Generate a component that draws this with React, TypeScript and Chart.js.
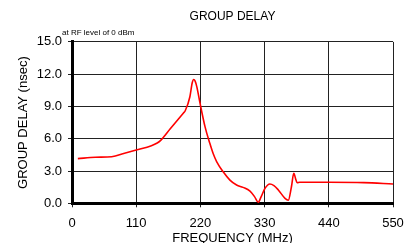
import React, { useEffect, useRef } from "react";
import { Chart, registerables } from "chart.js";

Chart.register(...registerables);

const freqMHz = [10, 40, 68, 90, 110, 136, 146, 152, 168, 191, 194, 202, 206, 208.5, 211, 214, 219, 228, 236, 242, 248, 259, 270.6, 282, 293, 305, 313, 319, 324, 330.7, 339, 346, 353.5, 365, 370.6, 376, 380, 383.8, 386, 390, 440, 500, 550];
const delayNs = [4.15, 4.28, 4.33, 4.65, 4.95, 5.35, 5.6, 5.85, 6.9, 8.4, 8.6, 9.9, 11.2, 11.5, 11.35, 10.8, 9.4, 7.1, 5.6, 4.6, 3.86, 2.93, 2.16, 1.7, 1.48, 1.14, 0.6, 0.1, 0.6, 1.4, 1.8, 1.65, 1.24, 0.46, 0.28, 1.54, 2.78, 2.16, 1.91, 1.95, 1.95, 1.92, 1.8];

const xTicks = [0, 110, 220, 330, 440, 550];
const yTicks = [0, 3, 6, 9, 12, 15];

const chartTitle = "GROUP DELAY";
const noteText = "at RF level of 0 dBm";
const xTitle = "FREQUENCY (MHz)";
const yTitle = "GROUP DELAY (nsec)";

const FONT = "'Liberation Sans', Arial, sans-serif";

export default function App() {
  const ref = useRef<HTMLCanvasElement | null>(null);

  useEffect(() => {
    document.body.style.margin = "0";
    document.body.style.overflow = "hidden";
    document.documentElement.style.overflow = "hidden";
    const canvas = ref.current;
    if (!canvas) return;

    const notePlugin = {
      id: "notePlugin",
      afterDraw(chart: any) {
        const { ctx, chartArea } = chart;
        ctx.save();
        ctx.font = `8px ${FONT}`;
        ctx.fillStyle = "#000";
        ctx.textAlign = "left";
        ctx.textBaseline = "middle";
        ctx.fillText(noteText, chartArea.left - 10, chartArea.top - 9);
        ctx.restore();
      },
    };

    const chart = new Chart(canvas, {
      type: "line",
      data: {
        datasets: [
          {
            data: freqMHz.map((f, i) => ({ x: f, y: delayNs[i] })),
            borderColor: "#ff0000",
            borderWidth: 1.6,
            pointRadius: 0,
            cubicInterpolationMode: "monotone",
            fill: false,
          },
        ],
      },
      options: {
        responsive: false,
        animation: false,
        devicePixelRatio: 1,
        layout: { padding: { left: 0, right: 24, top: 0, bottom: 0 } },
        plugins: {
          legend: { display: false },
          tooltip: { enabled: false },
          title: {
            display: true,
            fullSize: false,
            text: chartTitle,
            color: "#000",
            font: { family: FONT, size: 12, weight: "normal" },
            padding: { top: 9.5, bottom: 18 },
          },
        },
        scales: {
          x: {
            type: "linear",
            min: 0,
            max: 550,
            afterBuildTicks: (scale: any) => {
              scale.ticks = xTicks.map((v) => ({ value: v }));
            },
            afterFit: (scale: any) => {
              scale.height = 46.7;
            },
            ticks: {
              color: "#000",
              font: { family: FONT, size: 13 },
              padding: 8,
              maxRotation: 0,
              callback: (v: any) => String(v),
            },
            grid: { color: "#222", lineWidth: 1, tickLength: 4, drawTicks: true },
            border: { color: "#000", width: 3 },
            title: {
              display: true,
              text: xTitle,
              color: "#000",
              font: { family: FONT, size: 13 },
              padding: { top: 0, bottom: 4 },
            },
          },
          y: {
            type: "linear",
            min: 0,
            max: 15,
            afterBuildTicks: (scale: any) => {
              scale.ticks = yTicks.map((v) => ({ value: v }));
            },
            afterFit: (scale: any) => {
              scale.width = 72;
            },
            ticks: {
              color: "#000",
              font: { family: FONT, size: 13 },
              padding: 6,
              callback: (v: any) => Number(v).toFixed(1),
            },
            grid: { color: "#222", lineWidth: 1, tickLength: 4, drawTicks: true },
            border: { color: "#000", width: 3 },
            title: {
              display: true,
              text: yTitle,
              color: "#000",
              font: { family: FONT, size: 13 },
              padding: { top: 16, bottom: 0 },
            },
          },
        },
      },
      plugins: [notePlugin],
    } as any);

    return () => chart.destroy();
  }, []);

  return (
    <div style={{ position: "fixed", left: 0, top: 0, width: 417, height: 250 }}>
      <canvas ref={ref} width={417} height={250} />
    </div>
  );
}
